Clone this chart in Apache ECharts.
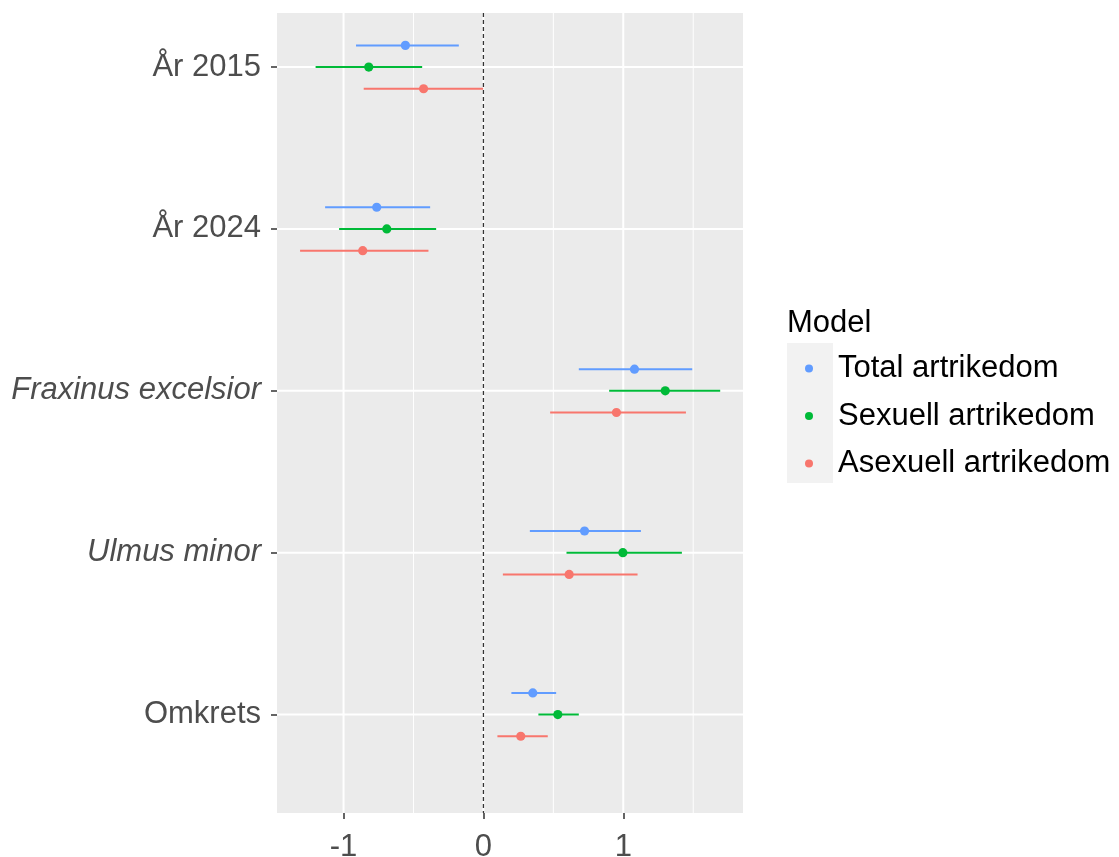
<!DOCTYPE html>
<html>
<head>
<meta charset="utf-8">
<script src="https://cdn.jsdelivr.net/npm/echarts@6/dist/echarts.min.js"></script>
<style>html,body{margin:0;padding:0;background:#fff;}#c{width:1119px;height:857px;}</style>
</head>
<body>
<div id="c"></div>
<script>
// Categories bottom-to-top, placed at positions 1..5
var categories = ['Omkrets', 'Ulmus minor', 'Fraxinus excelsior', 'År 2024', 'År 2015'];
var italicCats = ['Ulmus minor', 'Fraxinus excelsior'];
var positions = [1, 2, 3, 4, 5];
var models = ['Total artrikedom', 'Sexuell artrikedom', 'Asexuell artrikedom'];

// estimate, lower, upper (order matches categories)
var totalEst = [0.353, 0.723, 1.080, -0.763, -0.558];
var totalLo  = [0.200, 0.332, 0.682, -1.132, -0.911];
var totalHi  = [0.520, 1.126, 1.493, -0.381, -0.176];

var sexEst = [0.532, 0.997, 1.300, -0.691, -0.820];
var sexLo  = [0.393, 0.594, 0.899, -1.032, -1.200];
var sexHi  = [0.682, 1.419, 1.693, -0.338, -0.438];

var asexEst = [0.267, 0.613, 0.951, -0.863, -0.428];
var asexLo  = [0.100, 0.139, 0.477, -1.311, -0.856];
var asexHi  = [0.460, 1.102, 1.448, -0.393, -0.002];

var xTicks = [-1, 0, 1];
var xMinorTicks = [-0.5, 0.5, 1.5];

var colors = ['#619CFF', '#00BA38', '#F8766D'];
var dodge = [0.134, 0, -0.134];
var FONT = '"Liberation Sans", Arial, sans-serif';
var FS = 31;

function buildData(est, lo, hi, off) {
  return est.map(function (e, i) { return [e, lo[i], hi[i], positions[i] + off]; });
}
var seriesData = [
  buildData(totalEst, totalLo, totalHi, dodge[0]),
  buildData(sexEst, sexLo, sexHi, dodge[1]),
  buildData(asexEst, asexLo, asexHi, dodge[2])
];

function rangeRender(color) {
  return function (params, api) {
    var y = api.value(3);
    var a = api.coord([api.value(1), y]);
    var b = api.coord([api.value(2), y]);
    var c = api.coord([api.value(0), y]);
    return {
      type: 'group',
      children: [
        { type: 'line', shape: { x1: a[0], y1: a[1], x2: b[0], y2: b[1] }, style: { stroke: color, lineWidth: 2 } },
        { type: 'circle', shape: { cx: c[0], cy: c[1], r: 4.6 }, style: { fill: color } }
      ]
    };
  };
}

function vGridRender(width, dash, color) {
  return function (params, api) {
    var cs = params.coordSys;
    var p = api.coord([api.value(0), 1]);
    return { type: 'line', shape: { x1: p[0], y1: cs.y, x2: p[0], y2: cs.y + cs.height },
      style: { stroke: color, lineWidth: width, lineDash: dash } };
  };
}
function hGridRender(params, api) {
  var cs = params.coordSys;
  var p = api.coord([0, api.value(1)]);
  return { type: 'line', shape: { x1: cs.x, y1: p[1], x2: cs.x + cs.width, y2: p[1] },
    style: { stroke: '#FFFFFF', lineWidth: 2 } };
}

var series = [
  { type: 'custom', name: 'gridMinor', silent: true, z: 1, renderItem: vGridRender(1, null, '#FFFFFF'),
    data: xMinorTicks.map(function (v) { return [v, 3]; }), encode: { x: 0, y: 1 } },
  { type: 'custom', name: 'gridMajor', silent: true, z: 1, renderItem: vGridRender(2, null, '#FFFFFF'),
    data: xTicks.map(function (v) { return [v, 3]; }), encode: { x: 0, y: 1 } },
  { type: 'custom', name: 'gridH', silent: true, z: 1, renderItem: hGridRender,
    data: positions.map(function (p) { return [0, p]; }), encode: { x: 0, y: 1 } },
  { type: 'custom', name: 'zero', silent: true, z: 4, renderItem: vGridRender(1.3, [4, 3], '#333333'),
    data: [[0, 3]], encode: { x: 0, y: 1 } }
];
models.forEach(function (m, i) {
  series.push({
    type: 'custom', name: m, z: 3,
    itemStyle: { color: colors[i] },
    renderItem: rangeRender(colors[i]),
    data: seriesData[i],
    encode: { x: [0, 1, 2], y: 3 }
  });
});

var chart = echarts.init(document.getElementById('c'), null, { renderer: 'canvas' });
chart.setOption({
  animation: false,
  backgroundColor: '#FFFFFF',
  textStyle: { fontFamily: FONT },
  grid: { left: 277, right: 376, top: 13, bottom: 44, show: true, backgroundColor: '#EBEBEB', borderWidth: 0,
    containLabel: false, outerBoundsMode: 'none' },
  xAxis: {
    type: 'value', min: -1.476, max: 1.856, position: 'bottom',
    axisLine: { show: true, onZero: false, lineStyle: { color: 'rgba(0,0,0,0)', width: 0 } },
    splitLine: { show: false },
    axisTick: { show: true, customValues: xTicks, length: 6, lineStyle: { color: '#333333', width: 1.5 } },
    axisLabel: { customValues: xTicks, margin: 19, fontSize: FS, color: '#4D4D4D', fontFamily: FONT,
      formatter: function (v) { return String(v); } }
  },
  yAxis: {
    type: 'value', min: 0.392, max: 5.334, position: 'left',
    axisLine: { show: true, onZero: false, lineStyle: { color: 'rgba(0,0,0,0)', width: 0 } },
    splitLine: { show: false },
    axisTick: { show: true, customValues: positions, length: 6, lineStyle: { color: '#333333', width: 1.5 } },
    axisLabel: {
      customValues: positions, margin: 16, fontSize: FS, color: '#4D4D4D', fontFamily: FONT,
      formatter: function (v) {
        var name = categories[Math.round(v) - 1];
        return italicCats.indexOf(name) >= 0 ? '{it|' + name + '}' : '{n|' + name + '}';
      },
      rich: {
        it: { fontStyle: 'italic', fontSize: FS, color: '#4D4D4D', fontFamily: FONT },
        n: { fontSize: FS, color: '#4D4D4D', fontFamily: FONT }
      }
    }
  },
  title: {
    text: 'Model', left: 787, top: 308, padding: 0,
    textStyle: { fontSize: FS, fontWeight: 'normal', color: '#000000', fontFamily: FONT }
  },
  legend: {
    data: models, orient: 'vertical', left: 805, top: 353, padding: 0,
    icon: 'circle', itemWidth: 8, itemHeight: 8, itemGap: 16.5,
    textStyle: { fontSize: FS, color: '#000000', fontFamily: FONT, lineHeight: 31, padding: [0, 0, 0, 20] },
    selectedMode: false
  },
  graphic: [
    { type: 'rect', left: 787, top: 343, z: -1, shape: { width: 46, height: 140 }, style: { fill: '#F2F2F2' } }
  ],
  series: series
});
</script>
</body>
</html>
